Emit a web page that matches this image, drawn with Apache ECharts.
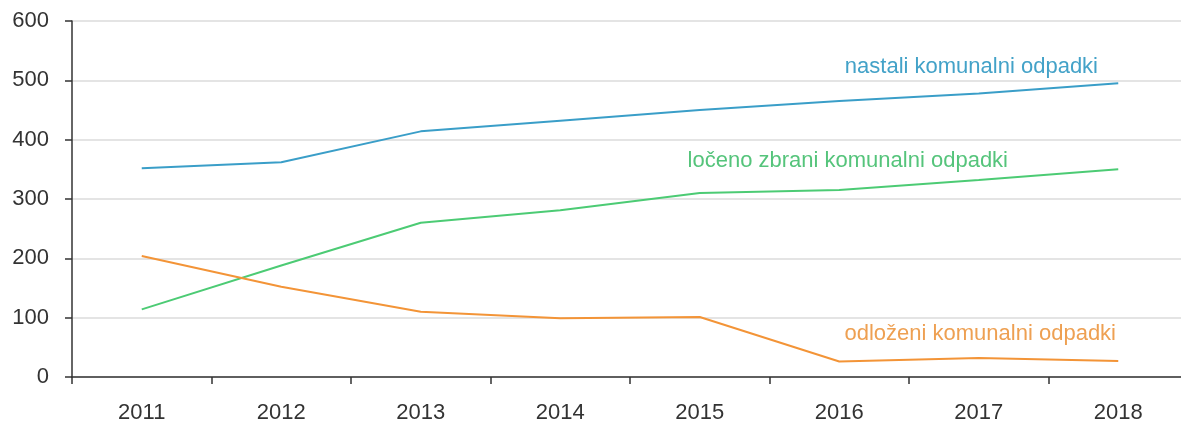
<!DOCTYPE html>
<html>
<head>
<meta charset="utf-8">
<script src="https://cdn.jsdelivr.net/npm/echarts@6/dist/echarts.min.js"></script>
<style>
  html, body { margin: 0; padding: 0; background: #fff; }
  #lineBox { width: 1181px; height: 422px; }
</style>
</head>
<body>
<div id="lineBox"></div>
<script>
var years = ['2011', '2012', '2013', '2014', '2015', '2016', '2017', '2018'];
var nastali = [352, 362, 414, 432, 450, 465, 478, 495];
var loceno = [114, 188, 260, 281, 310, 315, 332, 350];
var odlozeni = [204, 152, 110, 99, 101, 26, 32, 27];
var yTicks = [0, 100, 200, 300, 400, 500, 600];

function bindLine() {
    var chart = echarts.init(document.getElementById('lineBox'));
    var font = '"Liberation Sans", Arial, sans-serif';
    var option = {
        animation: false,
        grid: { left: 72, top: 21, width: 1116, height: 356, containLabel: false, outerBoundsMode: 'none' },
        xAxis: {
            type: 'category',
            boundaryGap: true,
            data: years,
            axisLine: { lineStyle: { color: '#333', width: 1.5 } },
            axisTick: { show: true, length: 7, lineStyle: { color: '#333', width: 1.5 } },
            axisLabel: { color: '#333', fontSize: 22, fontFamily: font, margin: 25 },
            splitLine: { show: false }
        },
        yAxis: {
            type: 'value',
            min: yTicks[0],
            max: yTicks[yTicks.length - 1],
            interval: 100,
            axisLine: { show: true, lineStyle: { color: '#333', width: 1.5 } },
            axisTick: { show: true, length: 7, lineStyle: { color: '#333', width: 1.5 } },
            axisLabel: { color: '#333', fontSize: 22, fontFamily: font, margin: 23 },
            splitLine: { lineStyle: { color: '#e4e4e4', width: 2 } }
        },
        series: [
            {
                name: 'nastali komunalni odpadki',
                type: 'line',
                data: nastali,
                symbol: 'none',
                lineStyle: { color: '#3a9ec8', width: 2 }
            },
            {
                name: 'ločeno zbrani komunalni odpadki',
                type: 'line',
                data: loceno,
                symbol: 'none',
                lineStyle: { color: '#4ccb74', width: 2 }
            },
            {
                name: 'odloženi komunalni odpadki',
                type: 'line',
                data: odlozeni,
                symbol: 'none',
                lineStyle: { color: '#f39437', width: 2 }
            }
        ],
        graphic: [
            { type: 'text', x: 1098, y: 67, style: { text: 'nastali komunalni odpadki', fill: '#43a2c8', font: '22px ' + font, align: 'right', verticalAlign: 'middle' } },
            { type: 'text', x: 1008, y: 160.5, style: { text: 'ločeno zbrani komunalni odpadki', fill: '#55c47b', font: '22px ' + font, align: 'right', verticalAlign: 'middle' } },
            { type: 'text', x: 1116, y: 334, style: { text: 'odloženi komunalni odpadki', fill: '#eea052', font: '22px ' + font, align: 'right', verticalAlign: 'middle' } }
        ]
    };
    chart.setOption(option);
}
bindLine();
</script>
</body>
</html>
